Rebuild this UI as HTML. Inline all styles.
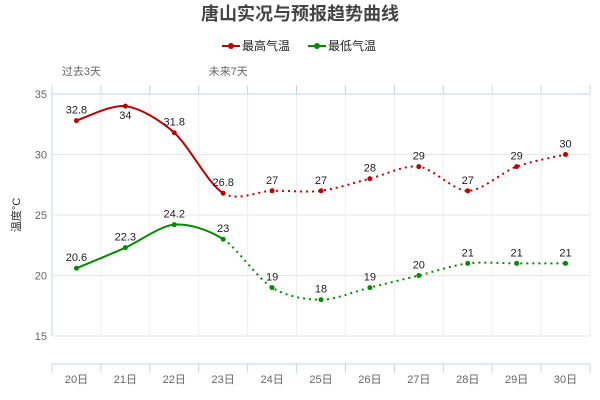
<!DOCTYPE html>
<html><head><meta charset="utf-8"><style>
body{margin:0;background:#fff;}
svg{font-family:"Liberation Sans","Noto Sans CJK SC",sans-serif;display:block}
</style></head><body>
<svg id="c" width="600" height="400"></svg>
<script>
const categories=["20日","21日","22日","23日","24日","25日","26日","27日","28日","29日","30日"];
const highValues=[32.8,34,31.8,26.8,27,27,28,29,27,29,30];
const lowValues=[20.6,22.3,24.2,23,19,18,19,20,21,21,21];
const yTicks=[15,20,25,30,35];
const pastCount=4;
const svg=document.getElementById('c');
const NS='http://www.w3.org/2000/svg';
function el(t,a,p){const e=document.createElementNS(NS,t);for(const k in a)e.setAttribute(k,a[k]);(p||svg).appendChild(e);return e;}
const L=52,R=590,T=94,B=336;
const bw=(R-L)/categories.length;
const x=i=>L+bw*(i+0.5);
const y=v=>B-(v-15)/(35-15)*(B-T);
let t=el('text',{x:300,y:20,'text-anchor':'middle','font-size':18,'font-weight':'bold',fill:'#444'});t.textContent='唐山实况与预报趋势曲线';

yTicks.forEach(v=>{const g=el('line',{x1:L,x2:R,y1:y(v),y2:y(v),stroke:v==35?'#c8d4e8':'#e6e6e6'});

const tx=el('text',{x:L-5,y:y(v)+4,'text-anchor':'end','font-size':11,fill:'#666'});tx.textContent=v;
});
for(let i=1;i<=categories.length;i++){const g=el('line',{x1:L+bw*i,x2:L+bw*i,y1:T,y2:B,stroke:'#eeeeee'});
}
el('line',{x1:L,x2:L,y1:85,y2:B,stroke:'#c8d4e8'});
for(let i=0;i<=categories.length;i++){el('line',{x1:L+bw*i,x2:L+bw*i,y1:85,y2:T,stroke:'#c8d4e8'});
el('line',{x1:L+bw*i,x2:L+bw*i,y1:364,y2:373,stroke:'#c8d4e8'});}
el('line',{x1:L,x2:R,y1:364,y2:364,stroke:'#c8d4e8'});
categories.forEach((c,i)=>{const tx=el('text',{x:x(i),y:383,'text-anchor':'middle','font-size':11,fill:'#666'});tx.textContent=c;
});
[['过去3天',x(0)],['未来7天',x(3)]].forEach(([s,xx])=>{const tx=el('text',{x:xx+5,y:75,'text-anchor':'middle','font-size':11,fill:'#666'});tx.textContent=s;
});
const ya=el('text',{x:0,y:0,'font-size':11,fill:'#333','text-anchor':'middle',transform:'translate(20,215) rotate(-90)'});ya.textContent='温度°C';

function seg(pts,i){const p0=pts[Math.max(i-1,0)],p1=pts[i],p2=pts[i+1],p3=pts[Math.min(i+2,pts.length-1)];const k=0.15;
return `C${p1[0]+(p2[0]-p0[0])*k},${p1[1]+(p2[1]-p0[1])*k} ${p2[0]-(p3[0]-p1[0])*k},${p2[1]-(p3[1]-p1[1])*k} ${p2[0]},${p2[1]}`;}
function series(vals,color,name,labelsBelow){
const pts=vals.map((v,i)=>[x(i),y(v)]);
let d1=`M${pts[0][0]},${pts[0][1]}`;for(let i=0;i<pastCount-1;i++)d1+=seg(pts,i);
let d2=`M${pts[pastCount-1][0]},${pts[pastCount-1][1]}`;for(let i=pastCount-1;i<pts.length-1;i++)d2+=seg(pts,i);
const a=el('path',{d:d1,fill:'none',stroke:color,'stroke-width':2});
const b=el('path',{d:d2,fill:'none',stroke:color,'stroke-width':2,'stroke-dasharray':'2,4'});
pts.forEach((p,i)=>{const c=el('circle',{cx:p[0],cy:p[1],r:2.5,fill:color});
const tx=el('text',{x:p[0],y:p[1]-7+(labelsBelow&&labelsBelow(i)?20:0),'text-anchor':'middle','font-size':11,fill:'#222'});tx.textContent=vals[i];
});}
series(highValues,'#c00000','high-temp',i=>i==1);
series(lowValues,'#008c00','low-temp');
[['最高气温','#c00000',222],['最低气温','#008c00',308]].forEach(([s,c,lx])=>{
const g=el('g',{});
el('line',{x1:lx,x2:lx+18,y1:46,y2:46,stroke:c,'stroke-width':2},g);el('circle',{cx:lx+9,cy:46,r:3,fill:c},g);
const tx=el('text',{x:lx+20,y:50,'font-size':12,fill:'#222'},g);tx.textContent=s;});
</script></body></html>
